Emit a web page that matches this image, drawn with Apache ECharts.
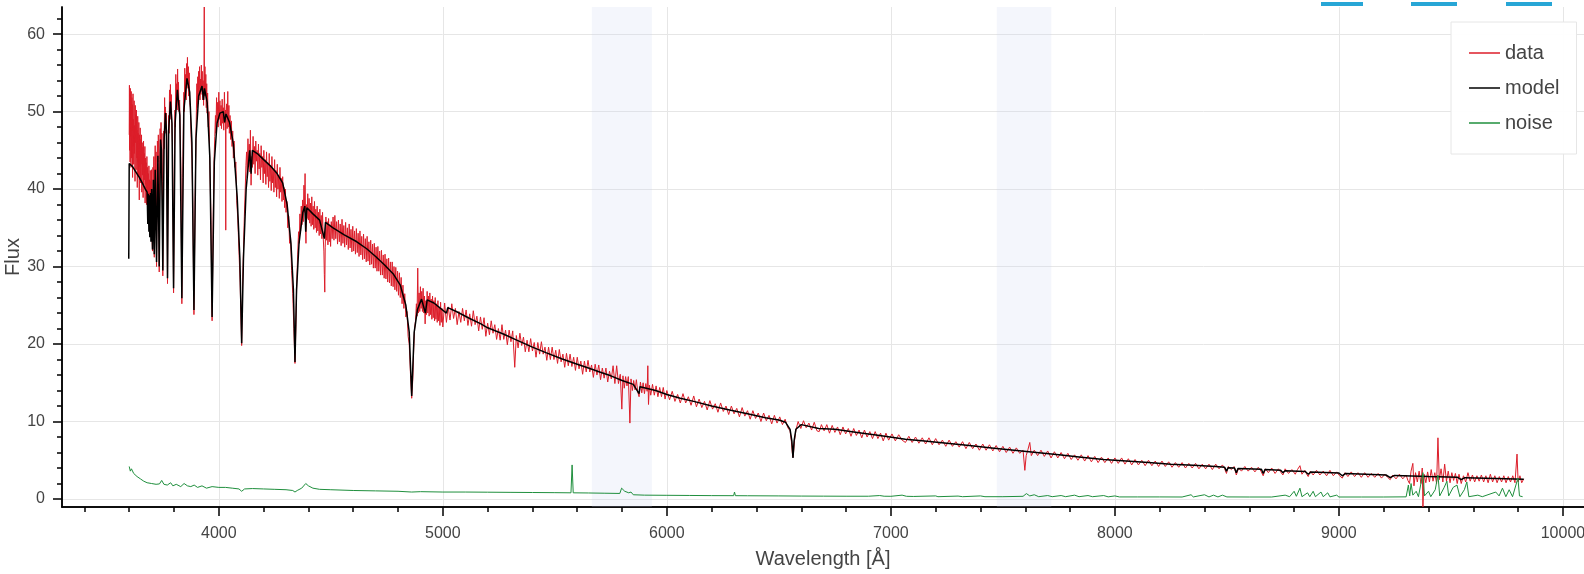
<!DOCTYPE html>
<html>
<head>
<meta charset="utf-8">
<script src="https://cdn.jsdelivr.net/npm/echarts@6/dist/echarts.min.js"></script>
<style>
  html, body { margin: 0; padding: 0; background: #fff; }
  #chart { width: 1584px; height: 574px; }
</style>
</head>
<body>
<div id="chart"></div>
<script>
// 刻度
const xMajorTicks = [4000, 5000, 6000, 7000, 8000, 9000, 10000];
const xMinorTicks = [3400, 3600, 3800, 4200, 4400, 4600, 4800, 5200, 5400, 5600, 5800,
  6200, 6400, 6600, 6800, 7200, 7400, 7600, 7800, 8200, 8400, 8600, 8800, 9200, 9400, 9600, 9800];
const yMajorTicks = [0, 10, 20, 30, 40, 50, 60];
const yMinorTicks = [2, 4, 6, 8, 12, 14, 16, 18, 22, 24, 26, 28, 32, 34, 36, 38,
  42, 44, 46, 48, 52, 54, 56, 58, 62];

// 遮罩波段 [起, 止]
const maskBands = [[5665, 5933], [7473, 7716]];

// 观测光谱 [波长, 流量]
const dataPoints = [
  [3600,47.0],[3601,53.4],[3602,45.0],[3603,52.2],[3604,43.5],[3605,53.0],[3606,46.8],[3607,50.5],[3608,42.8],[3609,52.6],
  [3610,44.0],[3612,51.8],[3613,47.5],[3614,50.9],[3615,41.5],[3617,52.3],[3618,45.5],[3619,49.0],[3620,43.2],[3622,51.4],
  [3623,44.6],[3624,48.2],[3626,41.0],[3627,50.8],[3628,46.0],[3630,49.6],[3631,42.5],[3632,50.2],[3634,44.0],[3635,47.6],
  [3636,40.2],[3638,49.4],[3639,43.5],[3640,47.2],[3642,41.8],[3643,48.6],[3645,38.6],[3646,47.0],[3648,42.9],[3649,47.9],
  [3650,40.8],[3652,46.4],[3653,43.2],[3655,47.0],[3656,39.6],[3658,46.0],[3659,41.8],[3661,45.4],[3662,38.9],[3664,46.2],
  [3665,40.5],[3667,44.6],[3668,41.2],[3670,45.5],[3671,38.2],[3673,44.0],[3674,40.6],[3676,43.4],[3677,38.0],[3679,44.2],
  [3680,39.4],[3682,42.8],[3683,36.5],[3685,42.0],[3686,37.8],[3688,43.0],[3689,35.4],[3691,41.2],[3692,36.8],[3694,42.4],
  [3695,34.6],[3697,41.0],[3698,36.0],[3700,42.5],[3702,33.5],[3704,32.0],[3706,42.8],[3708,40.5],[3710,44.2],[3712,31.2],
  [3714,43.0],[3716,45.6],[3718,42.2],[3720,44.8],[3722,30.0],[3724,42.6],[3726,46.2],[3728,43.5],[3730,47.0],[3732,44.0],
  [3734,29.3],[3736,43.8],[3738,47.8],[3740,45.0],[3742,48.6],[3744,45.5],[3746,47.2],[3748,41.0],[3750,28.8],[3752,41.5],
  [3754,47.5],[3756,45.2],[3758,51.8],[3760,47.8],[3762,50.6],[3764,47.2],[3766,49.8],[3768,44.5],[3771,27.8],[3774,44.0],
  [3776,49.5],[3778,47.2],[3780,52.8],[3782,49.0],[3784,53.5],[3786,50.0],[3788,52.2],[3790,48.5],[3793,46.0],[3798,26.6],
  [3802,45.0],[3804,50.2],[3806,48.0],[3808,54.8],[3810,50.8],[3812,53.6],[3814,50.2],[3816,55.5],[3818,51.5],[3820,53.8],
  [3822,50.0],[3825,51.5],[3828,47.0],[3831,42.0],[3835,25.2],[3839,41.5],[3842,49.0],[3844,52.5],[3846,50.0],[3848,55.6],
  [3850,52.0],[3852,54.8],[3854,51.5],[3856,56.2],[3858,53.0],[3860,57.0],[3862,53.5],[3864,55.8],[3866,52.0],[3868,55.0],
  [3870,51.2],[3873,50.5],[3876,47.0],[3880,44.0],[3884,38.0],[3889,23.8],[3894,38.5],[3898,46.5],[3900,50.2],[3902,53.6],
  [3904,50.5],[3906,54.5],[3908,51.0],[3910,55.2],[3912,52.0],[3914,55.8],[3916,51.5],[3918,54.2],[3920,52.2],[3922,56.0],
  [3924,52.6],[3926,55.2],[3928,51.5],[3930,54.0],[3932,50.8],[3934,55.5],[3935,63.5],[3936,52.0],[3938,55.8],[3940,52.3],
  [3942,54.8],[3944,50.5],[3946,53.6],[3948,49.8],[3950,52.4],[3953,48.0],[3956,50.0],[3960,43.0],[3965,36.0],[3970,23.0],
  [3975,36.5],[3979,44.0],[3982,46.8],[3985,49.5],[3987,47.2],[3990,51.8],[3992,48.6],[3995,51.2],[3997,48.0],[4000,52.5],
  [4002,49.0],[4005,51.4],[4007,48.2],[4010,50.8],[4012,47.8],[4015,51.6],[4017,48.5],[4020,50.5],[4022,47.6],[4025,52.5],
  [4028,48.5],[4030,50.2],[4031,34.7],[4032,49.5],[4035,51.0],[4037,47.8],[4040,52.6],[4042,48.0],[4045,50.8],[4047,47.2],
  [4050,49.5],[4053,46.4],[4056,48.8],[4059,45.5],[4062,47.5],[4065,44.0],[4068,46.2],[4072,42.8],[4076,43.5],[4080,38.5],
  [4085,36.0],[4090,32.0],[4095,28.0],[4102,19.8],[4106,27.5],[4110,32.0],[4114,36.5],[4118,40.0],[4121,43.0],[4124,44.8],
  [4127,41.5],[4130,46.5],[4133,43.0],[4136,45.8],[4139,42.2],[4141,47.6],[4144,40.5],[4147,44.2],[4150,42.8],[4153,46.8],
  [4156,43.2],[4159,45.5],[4162,42.0],[4165,46.2],[4168,43.6],[4171,45.0],[4174,41.8],[4177,45.8],[4180,42.6],[4183,44.6],
  [4186,41.2],[4189,45.6],[4192,42.8],[4195,44.2],[4198,40.8],[4201,45.0],[4204,42.0],[4207,43.8],[4210,40.6],[4213,44.8],
  [4216,41.6],[4219,43.4],[4222,40.2],[4225,44.6],[4228,41.0],[4231,43.0],[4234,39.8],[4237,44.2],[4240,40.8],[4243,42.6],
  [4246,39.6],[4249,43.8],[4252,40.2],[4255,42.4],[4258,39.0],[4261,43.2],[4264,40.0],[4267,41.8],[4270,38.8],[4273,42.8],
  [4276,39.6],[4279,41.4],[4282,38.4],[4285,41.6],[4288,38.6],[4291,40.2],[4294,37.6],[4297,40.0],[4300,37.0],[4304,38.4],
  [4308,35.0],[4312,36.5],[4316,33.0],[4320,33.8],[4325,29.5],[4330,26.5],[4335,22.0],[4340,17.5],[4344,22.5],[4348,28.0],
  [4352,31.5],[4356,34.5],[4359,33.0],[4362,36.8],[4365,34.6],[4368,37.8],[4371,35.4],[4374,38.6],[4377,35.8],[4380,40.5],
  [4383,37.0],[4385,42.0],[4387,35.5],[4389,33.0],[4391,38.0],[4394,36.2],[4397,39.4],[4400,36.0],[4403,38.8],[4406,35.6],
  [4409,38.2],[4412,35.2],[4415,39.0],[4418,35.4],[4421,37.8],[4424,34.8],[4427,38.4],[4430,35.0],[4433,37.4],[4436,34.4],
  [4439,37.8],[4442,34.6],[4445,37.0],[4448,34.0],[4451,37.4],[4454,34.2],[4457,36.6],[4460,33.6],[4463,37.0],[4466,33.8],
  [4469,32.0],[4471,29.0],[4473,26.7],[4475,32.5],[4478,36.4],[4481,33.4],[4484,35.8],[4487,32.8],[4490,36.2],[4493,33.2],
  [4496,35.4],[4499,32.6],[4502,35.8],[4506,33.6],[4510,36.4],[4514,33.4],[4518,36.6],[4522,33.6],[4526,35.8],[4530,32.9],
  [4534,36.0],[4538,33.2],[4542,35.5],[4546,32.7],[4550,36.1],[4554,33.0],[4558,35.3],[4562,32.5],[4566,35.7],[4570,32.8],
  [4574,35.0],[4578,32.2],[4582,35.5],[4586,32.4],[4590,34.8],[4594,31.9],[4598,35.2],[4602,32.0],[4606,34.6],[4610,31.6],
  [4614,34.9],[4618,31.8],[4622,34.3],[4626,31.3],[4630,34.6],[4634,31.5],[4638,33.9],[4642,30.9],[4646,34.2],[4650,31.0],
  [4654,33.6],[4658,30.6],[4662,33.9],[4666,30.7],[4670,33.2],[4674,30.2],[4678,33.4],[4682,30.3],[4686,32.9],[4690,29.8],
  [4694,33.0],[4698,29.8],[4702,32.5],[4706,29.4],[4710,32.6],[4714,29.4],[4718,32.0],[4722,28.9],[4726,32.1],[4730,28.9],
  [4734,31.5],[4738,28.5],[4742,31.6],[4746,28.4],[4750,31.0],[4754,28.0],[4758,31.1],[4762,27.9],[4766,30.6],[4770,27.5],
  [4774,30.6],[4778,27.4],[4782,30.0],[4786,27.0],[4790,29.9],[4794,26.8],[4798,29.4],[4802,26.3],[4806,29.2],[4810,26.0],
  [4814,28.6],[4818,25.2],[4822,27.6],[4826,24.6],[4830,26.5],[4835,23.5],[4840,24.2],[4845,21.0],[4850,20.0],[4855,16.5],
  [4861,13.0],[4866,15.5],[4870,19.5],[4874,22.0],[4878,23.0],[4882,25.2],[4885,23.6],[4888,29.8],[4891,24.0],[4894,26.6],
  [4897,24.2],[4900,27.4],[4903,24.6],[4906,26.8],[4909,24.2],[4912,27.2],[4915,24.0],[4918,26.2],[4921,22.6],[4924,25.6],
  [4927,23.8],[4930,26.8],[4933,24.0],[4936,26.2],[4939,23.6],[4942,26.6],[4945,23.8],[4948,25.8],[4951,23.2],[4954,26.2],
  [4957,23.4],[4960,25.6],[4963,23.0],[4966,26.0],[4969,23.2],[4972,25.2],[4975,22.8],[4978,25.6],[4981,23.0],[4984,24.8],
  [4987,22.4],[4990,25.4],[4993,22.8],[4996,24.6],[5000,22.2],[5008,25.3],[5016,22.8],[5024,24.8],[5032,23.1],[5040,25.2],
  [5048,23.3],[5056,24.6],[5064,22.5],[5072,24.2],[5080,22.8],[5088,24.6],[5096,23.0],[5104,24.4],[5112,22.4],[5120,23.9],
  [5128,22.3],[5136,24.3],[5144,22.5],[5152,23.6],[5160,21.7],[5168,23.5],[5176,21.9],[5184,23.4],[5192,21.0],[5200,22.7],
  [5208,21.2],[5216,23.0],[5224,21.4],[5232,22.5],[5240,20.6],[5248,22.0],[5256,20.5],[5264,22.5],[5272,20.6],[5280,21.8],
  [5288,19.9],[5296,21.8],[5304,20.3],[5312,21.7],[5321,17.0],[5328,21.1],[5336,19.5],[5344,21.4],[5352,19.8],[5360,20.9],
  [5368,19.0],[5376,20.5],[5384,19.0],[5392,20.7],[5400,19.1],[5408,20.2],[5416,18.3],[5424,20.2],[5432,18.7],[5440,20.3],
  [5448,18.7],[5456,19.6],[5464,17.9],[5472,19.6],[5480,18.0],[5488,19.6],[5496,18.0],[5504,19.2],[5512,17.5],[5520,19.3],
  [5528,17.7],[5536,18.7],[5544,17.0],[5552,18.8],[5560,17.2],[5568,18.7],[5576,17.1],[5584,18.3],[5592,16.6],[5600,18.3],
  [5608,16.8],[5616,17.8],[5624,16.1],[5632,17.8],[5640,16.4],[5648,17.9],[5656,16.4],[5664,17.3],[5672,15.7],[5680,17.4],
  [5688,16.0],[5696,17.3],[5704,15.4],[5712,16.9],[5720,15.6],[5728,16.9],[5736,15.1],[5744,16.5],[5752,15.5],[5760,17.2],
  [5768,14.9],[5776,17.2],[5784,14.9],[5792,16.1],[5799,11.6],[5804,15.9],[5810,14.3],[5816,15.8],[5822,14.6],[5828,15.8],
  [5835,9.8],[5840,15.5],[5846,14.0],[5852,15.3],[5858,14.1],[5864,15.4],[5870,13.8],[5876,13.2],[5882,15.1],[5888,13.7],
  [5894,15.0],[5900,13.6],[5906,14.9],[5912,13.9],[5915,17.2],[5918,12.2],[5922,14.7],[5928,13.4],[5936,14.8],[5944,13.4],
  [5952,14.6],[5960,13.2],[5968,14.4],[5976,13.2],[5984,14.4],[5992,12.9],[6000,14.0],[6012,12.8],[6024,13.9],[6036,12.6],
  [6048,13.5],[6060,12.4],[6072,13.6],[6084,12.4],[6096,13.2],[6108,12.1],[6120,13.3],[6132,11.9],[6144,12.9],[6156,11.8],
  [6168,12.6],[6180,11.5],[6192,12.7],[6204,11.6],[6216,12.3],[6228,11.2],[6240,12.4],[6252,11.3],[6264,12.0],[6276,10.9],
  [6288,12.0],[6300,11.0],[6312,11.7],[6324,10.6],[6336,11.8],[6348,10.7],[6360,11.4],[6372,10.3],[6384,11.4],[6396,10.4],
  [6408,11.1],[6420,10.0],[6432,11.1],[6444,10.1],[6456,10.8],[6468,9.7],[6480,10.8],[6492,9.8],[6504,10.6],[6516,9.6],
  [6528,10.3],[6540,9.2],[6550,8.8],[6556,7.4],[6560,6.0],[6563,5.4],[6566,6.2],[6570,7.6],[6576,8.9],[6586,10.0],
  [6598,9.1],[6610,10.1],[6622,9.2],[6634,9.8],[6646,8.9],[6658,9.9],[6670,8.8],[6680,8.7],[6690,9.6],[6702,8.8],
  [6714,9.6],[6726,8.5],[6738,9.5],[6750,8.6],[6762,9.3],[6774,8.3],[6786,9.3],[6798,8.4],[6810,9.1],[6822,8.1],
  [6834,9.1],[6846,8.2],[6858,8.9],[6870,7.9],[6882,8.9],[6894,8.0],[6906,8.7],[6918,7.8],[6930,8.7],[6942,7.8],
  [6954,8.5],[6966,7.5],[6978,8.5],[6990,7.6],[7005,8.4],[7020,7.5],[7035,8.3],[7050,7.6],[7065,7.3],[7080,8.1],
  [7095,7.3],[7110,8.0],[7125,7.2],[7140,7.9],[7155,7.1],[7170,7.9],[7185,7.0],[7200,7.8],[7215,7.0],[7230,7.6],
  [7245,6.8],[7260,7.6],[7275,6.8],[7290,7.4],[7305,6.7],[7320,7.4],[7335,6.5],[7350,7.3],[7365,6.5],[7380,7.1],
  [7395,6.3],[7410,7.1],[7425,6.3],[7440,7.0],[7455,6.2],[7470,6.9],[7485,6.1],[7500,6.8],[7515,6.0],[7530,6.7],
  [7545,5.9],[7560,6.6],[7575,5.9],[7590,6.3],[7598,3.7],[7604,5.6],[7612,6.4],[7620,7.3],[7627,5.6],[7640,6.3],
  [7655,5.6],[7670,6.3],[7685,5.5],[7700,6.2],[7715,5.3],[7730,6.1],[7745,5.3],[7760,6.0],[7775,5.2],[7790,5.9],
  [7805,5.1],[7820,5.7],[7835,5.0],[7850,5.7],[7865,4.9],[7880,5.6],[7895,4.8],[7910,5.5],[7925,4.7],[7940,5.4],
  [7955,4.7],[7970,5.3],[7985,4.6],[8000,5.3],[8015,4.6],[8030,5.3],[8045,4.5],[8060,5.2],[8075,4.4],[8090,5.1],
  [8105,4.4],[8120,5.0],[8135,4.3],[8150,5.0],[8165,4.3],[8180,4.9],[8195,4.2],[8210,4.9],[8225,4.2],[8240,4.8],
  [8255,4.1],[8270,4.7],[8285,4.1],[8300,4.7],[8315,4.0],[8330,4.6],[8345,4.0],[8360,4.6],[8375,3.9],[8390,4.5],
  [8405,3.9],[8420,4.5],[8435,3.8],[8450,4.5],[8465,3.9],[8480,4.4],[8490,3.9],[8498,3.3],[8506,4.2],[8520,3.8],
  [8532,4.2],[8542,3.1],[8552,4.0],[8565,3.6],[8580,4.2],[8595,3.6],[8610,4.1],[8625,3.5],[8640,4.1],[8652,3.6],
  [8662,3.0],[8672,3.9],[8685,3.4],[8700,4.0],[8715,3.3],[8730,3.9],[8742,3.4],[8750,3.1],[8760,3.9],[8775,3.3],
  [8790,3.8],[8805,3.2],[8815,3.8],[8826,4.3],[8835,3.2],[8848,3.7],[8856,3.2],[8863,2.9],[8872,3.6],[8885,3.1],
  [8900,3.7],[8915,3.1],[8930,3.6],[8945,3.0],[8960,3.7],[8975,3.0],[8990,3.5],[9003,3.0],[9015,2.7],[9027,3.4],
  [9040,2.9],[9055,3.5],[9070,2.9],[9085,3.4],[9100,2.8],[9115,3.4],[9130,2.8],[9145,3.3],[9160,2.8],[9175,3.3],
  [9190,2.7],[9205,3.2],[9217,2.8],[9229,2.5],[9240,3.1],[9255,2.6],[9270,3.2],[9285,2.6],[9300,3.1],[9308,2.4],
  [9315,2.0],[9322,3.6],[9330,4.6],[9335,1.7],[9342,3.4],[9350,2.2],[9358,3.6],[9366,2.0],[9372,4.0],[9375,-1.0],
  [9380,3.2],[9388,2.1],[9396,3.5],[9404,2.2],[9412,3.8],[9420,2.3],[9428,3.4],[9436,2.0],[9442,7.9],[9448,2.5],
  [9456,3.9],[9464,2.2],[9472,4.5],[9480,2.3],[9488,3.6],[9496,2.1],[9504,3.4],[9512,2.4],[9520,3.3],[9528,2.0],
  [9536,3.2],[9546,2.0],[9556,3.0],[9566,2.2],[9576,3.4],[9586,2.3],[9596,3.1],[9606,2.2],[9616,3.0],[9626,2.3],
  [9636,3.1],[9646,2.2],[9656,3.0],[9666,2.1],[9676,3.2],[9686,2.2],[9696,3.0],[9706,2.1],[9716,2.9],[9726,2.2],
  [9736,3.0],[9746,2.1],[9756,2.9],[9766,2.2],[9776,3.0],[9786,2.1],[9795,5.8],[9800,2.2],[9808,3.0],[9816,2.1],
  [9825,2.6]
];

// 模型光谱
const modelPoints = [
  [3598,31.0],[3600,43.3],[3615,42.9],[3630,42.2],[3645,41.5],[3660,40.7],[3672,40.0],
  [3680,39.6],[3683,35.5],[3685,39.4],[3688,34.5],[3690,39.2],[3692,33.8],[3695,39.5],[3697,33.2],
  [3700,40.0],[3704,32.2],[3708,41.2],[3712,31.6],[3716,42.5],[3722,30.6],[3728,44.3],[3734,30.0],
  [3740,46.4],[3744,45.0],[3750,29.5],[3756,46.5],[3762,49.8],[3766,47.5],[3771,28.5],[3776,47.5],
  [3784,51.3],[3791,48.5],[3798,27.2],[3805,48.5],[3815,52.8],[3826,49.5],[3835,25.9],[3844,50.2],
  [3858,54.3],[3870,52.5],[3880,46.0],[3889,24.4],[3898,46.5],[3910,52.0],[3925,53.3],[3932,51.5],
  [3936,53.0],[3948,51.2],[3960,44.0],[3970,23.5],[3980,43.5],[3992,48.5],[4005,49.8],[4020,50.0],
  [4026,48.6],[4032,49.7],[4048,48.6],[4065,45.8],[4082,39.0],[4094,31.0],[4102,20.1],[4110,31.0],
  [4122,40.0],[4138,45.0],[4144,42.0],[4150,45.0],[4175,44.5],[4200,43.8],[4230,43.0],[4260,42.0],
  [4285,40.8],[4305,38.0],[4322,33.0],[4333,27.0],[4340,17.7],[4347,27.0],[4358,33.0],[4375,37.0],
  [4384,37.8],[4388,34.5],[4393,37.6],[4420,36.8],[4450,36.0],[4471,33.6],[4476,35.7],[4510,35.0],
  [4560,34.1],[4616,33.2],[4660,32.3],[4700,31.3],[4740,30.2],[4780,29.0],[4810,27.6],[4835,25.0],
  [4850,21.5],[4861,13.3],[4872,21.5],[4887,24.5],[4905,25.8],[4922,24.0],[4930,25.7],[4960,25.3],
  [5016,24.0],[5022,24.7],[5060,24.2],[5120,23.3],[5170,22.6],[5200,22.1],[5270,21.3],[5330,20.5],
  [5400,19.6],[5460,18.9],[5530,18.1],[5600,17.4],[5650,16.9],[5700,16.4],[5750,15.9],[5800,15.3],
  [5850,14.8],[5876,13.6],[5880,14.5],[5950,14.0],[6000,13.5],[6060,13.0],[6120,12.6],[6200,12.0],
  [6280,11.5],[6360,11.0],[6440,10.5],[6500,10.2],[6530,9.9],[6550,9.0],[6558,7.5],[6563,5.3],
  [6568,7.5],[6576,9.0],[6600,9.6],[6678,9.1],[6682,9.3],[6750,9.0],[6850,8.6],[6950,8.2],
  [7065,7.7],[7070,7.8],[7150,7.5],[7250,7.2],[7350,6.9],[7450,6.6],[7550,6.3],[7650,6.0],
  [7750,5.7],[7850,5.4],[7950,5.1],[8050,4.9],[8150,4.7],[8250,4.5],[8350,4.35],[8450,4.2],
  [8490,4.1],[8498,3.6],[8506,4.05],[8534,4.0],[8542,3.4],[8550,3.95],[8654,3.85],[8662,3.3],
  [8670,3.8],[8740,3.7],[8750,3.4],[8760,3.65],[8850,3.55],[8863,3.2],[8876,3.5],[9000,3.35],
  [9015,3.0],[9030,3.3],[9210,3.1],[9229,2.75],[9248,3.05],[9400,2.9],[9530,2.8],[9546,2.5],
  [9562,2.75],[9700,2.65],[9825,2.55]
];

// 噪声
const noisePoints = [
  [3600,4.2],[3605,3.6],[3610,3.9],[3620,3.3],[3635,2.9],[3650,2.6],[3665,2.3],[3680,2.1],[3700,2.0],
  [3720,1.9],[3735,1.95],[3745,2.4],[3755,1.9],[3770,1.8],[3785,2.1],[3795,1.7],[3810,1.9],[3830,1.6],
  [3845,2.0],[3860,1.7],[3875,1.6],[3890,1.8],[3905,1.5],[3925,1.7],[3945,1.4],[3970,1.6],[4000,1.5],
  [4030,1.5],[4060,1.4],[4090,1.3],[4102,1.0],[4115,1.3],[4150,1.35],[4200,1.3],[4250,1.25],[4300,1.2],
  [4330,1.1],[4340,0.9],[4350,1.1],[4370,1.4],[4388,2.0],[4400,1.7],[4420,1.4],[4450,1.25],[4500,1.2],
  [4600,1.1],[4700,1.05],[4800,1.0],[4861,0.9],[4900,0.95],[5000,0.9],[5100,0.9],[5200,0.88],[5300,0.86],
  [5400,0.84],[5500,0.82],[5572,0.8],[5577,4.4],[5582,0.8],[5650,0.78],[5720,0.75],[5790,0.72],[5798,1.4],
  [5812,1.0],[5830,0.8],[5840,0.9],[5850,0.55],[5900,0.5],[6000,0.48],[6100,0.46],[6200,0.44],[6298,0.43],
  [6302,0.9],[6306,0.43],[6360,0.42],[6364,0.6],[6368,0.42],[6500,0.4],[6600,0.38],[6700,0.37],[6800,0.36],
  [6900,0.36],[6950,0.45],[6970,0.36],[7000,0.35],[7050,0.5],[7070,0.35],[7100,0.33],[7200,0.4],[7210,0.3],
  [7300,0.38],[7320,0.3],[7400,0.4],[7420,0.3],[7500,0.3],[7590,0.35],[7605,0.7],[7620,0.4],[7640,0.55],
  [7660,0.3],[7700,0.45],[7720,0.3],[7760,0.45],[7780,0.3],[7820,0.5],[7840,0.3],[7880,0.45],[7900,0.3],
  [7950,0.45],[7970,0.28],[8000,0.4],[8020,0.27],[8100,0.27],[8200,0.27],[8300,0.26],[8340,0.55],[8350,0.27],
  [8400,0.55],[8420,0.27],[8440,0.5],[8460,0.27],[8480,0.5],[8500,0.27],[8600,0.26],[8700,0.26],[8760,0.5],
  [8780,0.3],[8800,1.0],[8810,0.35],[8826,1.4],[8835,0.3],[8860,0.8],[8870,0.3],[8885,1.0],[8895,0.3],
  [8920,0.9],[8930,0.3],[8950,0.8],[8960,0.28],[8990,0.5],[9000,0.26],[9100,0.26],[9200,0.26],[9300,0.28],
  [9310,1.8],[9316,0.4],[9322,2.0],[9330,0.5],[9345,1.0],[9355,0.3],[9375,3.4],[9382,0.4],[9400,1.0],
  [9410,0.3],[9430,1.2],[9442,3.1],[9450,0.4],[9470,1.5],[9482,2.3],[9490,0.4],[9510,1.5],[9527,1.8],
  [9540,0.3],[9560,1.2],[9571,2.2],[9580,0.3],[9620,0.5],[9640,0.3],[9700,0.9],[9715,0.4],[9730,1.4],
  [9745,0.3],[9760,1.2],[9775,0.3],[9799,2.7],[9806,0.4],[9820,0.3]
];

const FONT = '"Liberation Sans", Helvetica, Arial, sans-serif';
const TEXT_COLOR = '#444';

function initChart() {
  const chart = echarts.init(document.getElementById('chart'));

  const axisBase = {
    type: 'value',
    axisLine: { show: true, onZero: false, lineStyle: { color: '#000', width: 1.5 } },
    splitLine: { show: false },
    axisLabel: { show: false }
  };
  // 不要千分位
  const plain = v => String(v);

  const option = {
    animation: false,
    backgroundColor: '#fff',
    textStyle: { fontFamily: FONT },
    grid: { left: 62, right: 0, top: 7, bottom: 67, containLabel: false, outerBoundsMode: 'none' },
    legend: {
      orient: 'vertical',
      left: 1451,
      top: 22,
      padding: [21, 17, 21, 18],
      icon: 'rect',
      itemWidth: 31,
      itemHeight: 1.5,
      itemGap: 15,
      backgroundColor: 'rgba(255,255,255,0.95)',
      borderColor: '#e6e6e6',
      borderWidth: 1,
      textStyle: { fontSize: 20, color: TEXT_COLOR, lineHeight: 20, fontFamily: FONT },
      data: ['data', 'model', 'noise']
    },
    xAxis: [
      Object.assign({}, axisBase, {
        min: 3300, max: 10094, position: 'bottom',
        name: 'Wavelength [Å]', nameLocation: 'middle', nameGap: 42,
        nameTextStyle: { fontSize: 20, color: TEXT_COLOR, fontFamily: FONT },
        axisTick: { show: true, customValues: xMajorTicks, length: 9, lineStyle: { color: '#000', width: 1.5 } },
        axisLabel: { show: true, customValues: xMajorTicks, formatter: plain, margin: 19, fontSize: 16, color: TEXT_COLOR, fontFamily: FONT },
        splitLine: { show: true, lineStyle: { color: '#e6e6e6', width: 1 } }
      }),
      Object.assign({}, axisBase, {
        min: 3300, max: 10094, position: 'bottom',
        axisTick: { show: true, customValues: xMinorTicks, length: 5, lineStyle: { color: '#000', width: 1.5 } }
      })
    ],
    yAxis: [
      Object.assign({}, axisBase, {
        min: -1.03, max: 63.5, position: 'left',
        name: 'Flux', nameLocation: 'middle', nameGap: 39, nameRotate: 90, nameMoveOverlap: false,
        nameTextStyle: { fontSize: 20, color: TEXT_COLOR, fontFamily: FONT },
        axisTick: { show: true, customValues: yMajorTicks, length: 9, lineStyle: { color: '#000', width: 1.5 } },
        axisLabel: { show: true, customValues: yMajorTicks, formatter: plain, margin: 17, fontSize: 16, color: TEXT_COLOR, fontFamily: FONT },
        splitLine: { show: true, lineStyle: { color: '#e6e6e6', width: 1 } }
      }),
      Object.assign({}, axisBase, {
        min: -1.03, max: 63.5, position: 'left',
        axisTick: { show: true, customValues: yMinorTicks, length: 5, lineStyle: { color: '#000', width: 1.5 } }
      })
    ],
    series: [
      {
        name: 'data', type: 'line', xAxisIndex: 0, yAxisIndex: 0,
        data: dataPoints, showSymbol: false, symbol: 'none',
        lineStyle: { color: '#dc1e2a', width: 1 }, itemStyle: { color: '#dc1e2a' },
        markArea: {
          silent: true,
          itemStyle: { color: 'rgba(200,212,240,0.2)' },
          data: maskBands.map(b => [{ xAxis: b[0] }, { xAxis: b[1] }])
        }
      },
      {
        name: 'model', type: 'line', xAxisIndex: 0, yAxisIndex: 0,
        data: modelPoints, showSymbol: false, symbol: 'none',
        lineStyle: { color: '#000', width: 1.5 }, itemStyle: { color: '#000' }
      },
      {
        name: 'noise', type: 'line', xAxisIndex: 0, yAxisIndex: 0,
        data: noisePoints, showSymbol: false, symbol: 'none',
        lineStyle: { color: '#1f8f3d', width: 1 }, itemStyle: { color: '#1f8f3d' }
      }
    ],
    // 工具栏残留的高亮条
    graphic: [
      { type: 'rect', shape: { x: 1321, y: 2, width: 42, height: 4 }, style: { fill: '#27a6d6' } },
      { type: 'rect', shape: { x: 1411, y: 2, width: 46, height: 4 }, style: { fill: '#27a6d6' } },
      { type: 'rect', shape: { x: 1506, y: 2, width: 46, height: 4 }, style: { fill: '#27a6d6' } }
    ]
  };

  chart.setOption(option, true);
  return chart;
}

initChart();
</script>
</body>
</html>
